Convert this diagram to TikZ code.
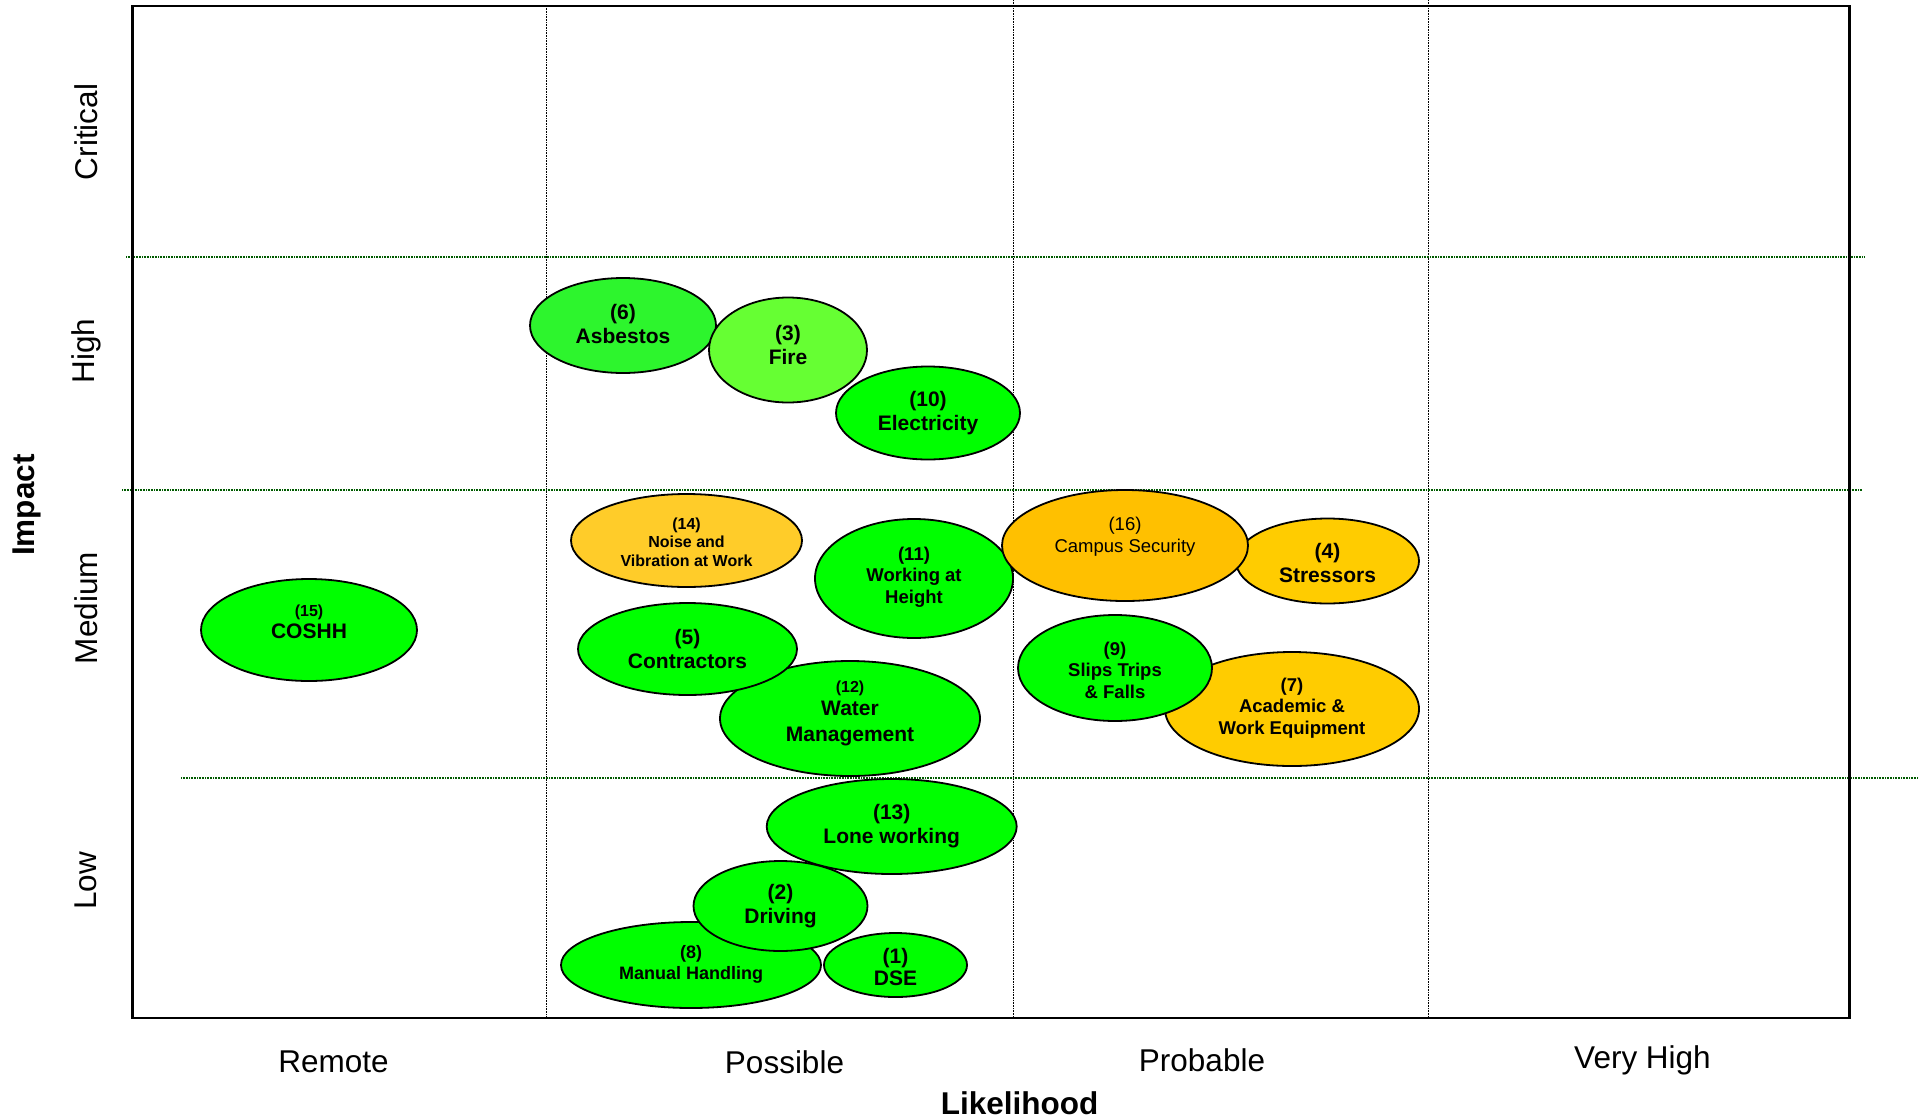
\documentclass[tikz,border=0pt]{standalone}
\usepackage{fontspec}
\setmainfont{Liberation Sans}
\usetikzlibrary{shapes.geometric}
\definecolor{gmain}{RGB}{0,255,0}
\definecolor{gasb}{RGB}{45,245,45}
\definecolor{gfire}{RGB}{102,255,51}
\definecolor{ynoise}{RGB}{255,204,41}
\definecolor{ocampus}{RGB}{255,192,0}
\definecolor{ystress}{RGB}{255,204,0}
\definecolor{gridgreen}{RGB}{0,90,0}
\begin{document}
\begin{tikzpicture}[x=1pt,y=-1pt,
  ell/.style={ellipse, draw=black, line width=1.8pt, inner sep=0pt},
  txtbig/.style={align=center, inner sep=0pt, font=\bfseries\fontsize{21}{24.5}\selectfont},
  txtmid/.style={align=center, inner sep=0pt, font=\bfseries\fontsize{18.5}{21.5}\selectfont},
  txtsmall/.style={align=center, inner sep=0pt, font=\bfseries\fontsize{16}{18.5}\selectfont},
  axislab/.style={inner sep=0pt, font=\fontsize{31.5}{36}\selectfont},
  axistitle/.style={inner sep=0pt, font=\bfseries\fontsize{31.5}{36}\selectfont},
  frameline/.style={line width=2.4pt, black},
  vgrid/.style={line width=1.6pt, black, dash pattern=on 0.8pt off 0.8pt},
  hgrid/.style={line width=1.4pt, gridgreen, dash pattern=on 0.8pt off 0.8pt}]
\useasboundingbox (0,0) rectangle (1919,1119);
\fill[white] (0,0) rectangle (1919,1119);

% grid
\draw[vgrid] (546.5,6) -- (546.5,1018);
\draw[vgrid] (1013.5,0) -- (1013.5,1018);
\draw[vgrid] (1428.5,0) -- (1428.5,1018);
\draw[hgrid] (126,257) -- (1864,257);
\draw[hgrid] (122,490) -- (1862,490);
\draw[hgrid] (181,778) -- (1919,778);
\draw[frameline] (132.5,6) rectangle (1849.5,1018);

% axis labels
\node[axislab, rotate=90] (rCrit) at (86,132) {Critical};
\node[axislab, rotate=90] (rHigh) at (86,351) {High};
\node[axislab, rotate=90] (rMed) at (86,608) {Medium};
\node[axislab, rotate=90] (rLow) at (86,881) {Low};
\node[axistitle, rotate=90] (tImpact) at (27,505) {Impact};
\node[axislab] (cRem) at (333.5,1062) {Remote};
\node[axislab] (cPos) at (784.5,1062) {Possible};
\node[axislab] (cPro) at (1202,1060) {Probable};
\node[axislab] (cVH) at (1642.5,1060) {Very High};
\node[axistitle] (tLike) at (1019.5,1103) {Likelihood};

% ellipses (drawing order matters for overlaps)
\node[ell, fill=gasb, minimum width=186pt, minimum height=95pt] (e6) at (623,325.5) {};
\node[txtbig] (t6) at ([yshift=1.5pt]e6.center) {(6)\\Asbestos};
\node[ell, fill=gfire, minimum width=158pt, minimum height=105pt] (e3) at (788,350) {};
\node[txtbig] (t3) at ([yshift=5pt]e3.center) {(3)\\Fire};
\node[ell, fill=gmain, minimum width=184pt, minimum height=93pt] (e10) at (928,413) {};
\node[txtbig] (t10) at ([yshift=0pt]e10.center) {(10)\\Electricity};

\node[ell, fill=ynoise, minimum width=231pt, minimum height=93pt] (e14) at (686.5,540.5) {};
\node[txtsmall] (t14) at ([yshift=-1.5pt]e14.center) {(14)\\Noise and\\Vibration at Work};
\node[ell, fill=gmain, minimum width=198pt, minimum height=119pt] (e11) at (914,578.5) {};
\node[txtmid] (t11) at ([yshift=1.5pt]e11.center) {(11)\\Working at\\Height};
\node[ell, fill=gmain, minimum width=260pt, minimum height=115pt] (e12) at (850,718.5) {};
\node[txtbig] (t12) at ([yshift=5.5pt]e12.center) {{\fontsize{16}{18}\selectfont (12)}\\[-1pt]Water\\[1pt]Management};
\node[ell, fill=gmain, minimum width=219pt, minimum height=92pt] (e5) at (687.5,649) {};
\node[txtbig] (t5) at (e5.center) {(5)\\Contractors};
\node[ell, fill=gmain, minimum width=216pt, minimum height=102pt] (e15) at (309,630) {};
\node[txtbig] (t15) at ([yshift=8pt]e15.center) {{\fontsize{16}{18}\selectfont (15)}\\[-3pt]COSHH};

\node[ell, fill=ystress, minimum width=183pt, minimum height=85pt] (e4) at (1327.5,561) {};
\node[txtbig] (t4) at ([yshift=-2pt]e4.center) {(4)\\Stressors};
\node[ell, fill=ocampus, minimum width=246pt, minimum height=111pt] (e16) at (1125,545.5) {};
\node[align=center, inner sep=0pt, font=\fontsize{18.5}{21.7}\selectfont] (t16) at ([yshift=9pt]e16.center) {(16)\\Campus Security};
\node[ell, fill=ystress, minimum width=254pt, minimum height=114pt] (e7) at (1292,709) {};
\node[txtmid] (t7) at ([yshift=1pt]e7.center) {(7)\\Academic \&\\Work Equipment};
\node[ell, fill=gmain, minimum width=194pt, minimum height=106pt] (e9) at (1115,668) {};
\node[txtmid] (t9) at ([yshift=-2pt]e9.center) {(9)\\Slips Trips\\\& Falls};

\node[ell, fill=gmain, minimum width=250pt, minimum height=95pt] (e13) at (891.7,826.5) {};
\node[txtbig] (t13) at ([yshift=0.5pt]e13.center) {(13)\\Lone working};
\node[ell, fill=gmain, minimum width=260pt, minimum height=86pt] (e8) at (691,965) {};
\node[align=center, inner sep=0pt, font=\bfseries\fontsize{18}{21}\selectfont] (t8) at ([yshift=0.5pt]e8.center) {(8)\\Manual Handling};
\node[ell, fill=gmain, minimum width=174pt, minimum height=90pt] (e2) at (780.5,906) {};
\node[txtbig] (t2) at (e2.center) {(2)\\Driving};
\node[ell, fill=gmain, minimum width=143pt, minimum height=64pt] (e1) at (895.5,965) {};
\node[align=center, inner sep=0pt, font=\bfseries\fontsize{21}{22}\selectfont] (t1) at ([yshift=-2pt]e1.center) {(1)\\DSE};
\end{tikzpicture}
\end{document}
